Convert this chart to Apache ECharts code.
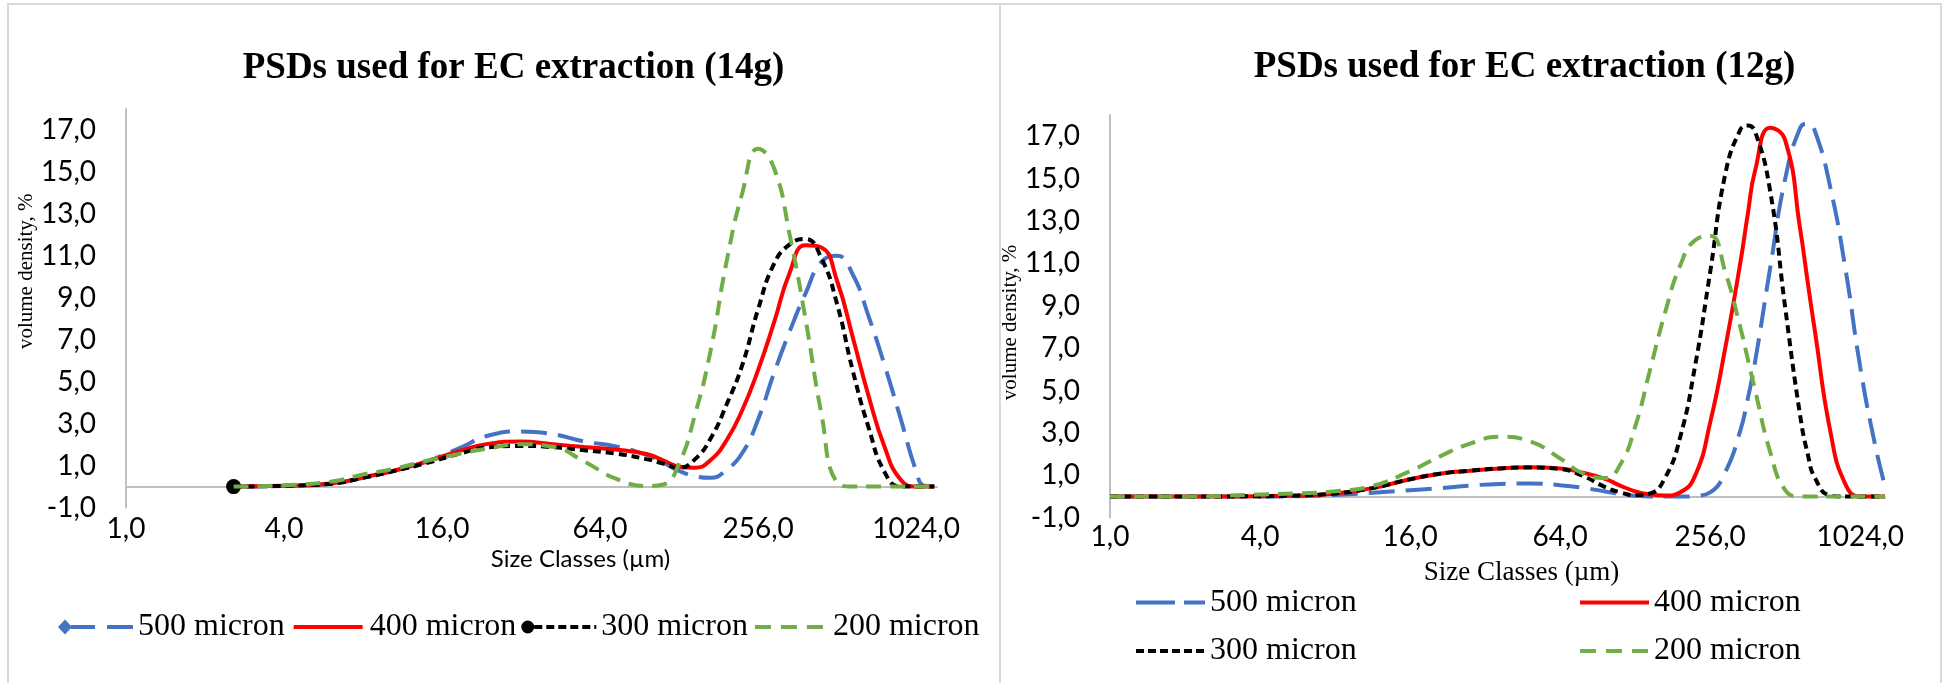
<!DOCTYPE html>
<html>
<head>
<meta charset="utf-8">
<script src="https://cdn.jsdelivr.net/npm/echarts@6/dist/echarts.min.js"></script>
<style>
html,body{margin:0;padding:0;background:#ffffff;}
#chart{width:1946px;height:683px;}
</style>
</head>
<body>
<div id="chart"></div>
<script>
// ---------------- data ----------------
const chartTitles = ['PSDs used for EC extraction (14g)', 'PSDs used for EC extraction (12g)'];
const seriesNames = ['500 micron', '400 micron', '300 micron', '200 micron'];
const xAxisTitle = 'Size Classes (\u00b5m)';
const yAxisTitle = 'volume density, %';
const xTickValues = [1, 4, 16, 64, 256, 1024];
const yTickValues = [-1, 1, 3, 5, 7, 9, 11, 13, 15, 17];

// 14g panel: size classes (µm) and volume density (%)
const sizes14g = [2.57, 4.0, 6.06, 8.0, 10.56, 13.93, 18.38, 24.25, 32.0, 42.22, 55.72, 73.52, 97.01, 111.4, 128.0, 147.0, 168.9, 194.0, 222.9, 256.0, 294.1, 337.8, 388.0, 445.7, 512.0, 588.1, 675.6, 776.0, 891.4, 1024.0, 1097.1, 1201.0];
const v500_14g = [0, 0.03, 0.14, 0.42, 0.76, 1.2, 1.8, 2.45, 2.63, 2.5, 2.15, 1.92, 1.5, 1.15, 0.75, 0.5, 0.42, 0.8, 1.6, 3.2, 5.4, 7.4, 9.2, 10.7, 11.0, 10.1, 8.1, 5.8, 3.3, 0.75, 0.05, 0];
const v400_14g = [0, 0.04, 0.15, 0.44, 0.77, 1.18, 1.68, 2.05, 2.15, 2.02, 1.89, 1.77, 1.54, 1.25, 0.95, 0.9, 1.27, 2.2, 3.65, 5.55, 7.8, 10.2, 11.5, 11.4, 9.8, 7.1, 4.3, 1.9, 0.35, 0, 0, 0];
const v300_14g = [0, 0.04, 0.14, 0.42, 0.75, 1.12, 1.55, 1.88, 1.94, 1.88, 1.73, 1.58, 1.3, 1.1, 0.9, 1.3, 2.3, 3.9, 5.8, 8.45, 10.6, 11.55, 11.8, 10.9, 8.7, 5.5, 2.8, 0.7, 0, 0, 0, 0];
const v200_14g = [0, 0.06, 0.24, 0.58, 0.86, 1.22, 1.55, 1.83, 2.02, 1.9, 1.2, 0.38, 0.03, 0.1, 1.1, 3.4, 6.5, 10.7, 14.0, 16.1, 15.2, 12.0, 8.0, 3.5, 0.2, 0, 0, 0, 0, 0, 0, 0];

// 12g panel
const sizes12g = [1, 2, 4, 5.66, 8, 11.31, 16, 21.11, 27.86, 36.76, 48.5, 64, 78.79, 97.01, 111.4, 128, 147.0, 168.9, 194.0, 222.9, 256, 294.1, 337.8, 362.0, 388.0, 445.7, 512, 588.1, 630.4, 675.6, 776.0, 891.4, 1024, 1176.1, 1287];
const v500_12g = [0, 0, 0, 0.02, 0.08, 0.18, 0.3, 0.4, 0.52, 0.6, 0.62, 0.54, 0.42, 0.24, 0.12, 0.04, 0, 0, 0, 0.03, 0.2, 1.15, 3.1, 4.6, 6.4, 10.8, 15.0, 17.4, 17.6, 17.2, 14.6, 10.8, 6.1, 2.4, 0.5];
const v400_12g = [0, 0, 0.02, 0.05, 0.15, 0.4, 0.82, 1.08, 1.22, 1.33, 1.38, 1.33, 1.13, 0.84, 0.52, 0.25, 0.1, 0.05, 0.2, 1.0, 3.5, 7.0, 11.0, 13.3, 15.4, 17.4, 16.8, 12.6, 10.1, 7.7, 3.1, 0.6, 0, 0, 0];
const v300_12g = [0, 0, 0.02, 0.05, 0.15, 0.4, 0.82, 1.08, 1.22, 1.33, 1.37, 1.3, 0.98, 0.45, 0.2, 0.07, 0.15, 0.9, 2.8, 6.2, 10.6, 15.2, 17.3, 17.5, 17.2, 14.4, 8.9, 3.8, 2.0, 0.85, 0.05, 0, 0, 0, 0];
const v200_12g = [0, 0, 0.1, 0.15, 0.25, 0.5, 1.2, 1.9, 2.5, 2.82, 2.6, 1.8, 1.1, 0.88, 1.5, 3.3, 6.0, 8.7, 10.9, 12.1, 12.3, 10.6, 8.0, 6.5, 5.0, 2.1, 0.3, 0, 0, 0, 0, 0, 0, 0, 0];

// ---------------- styles ----------------
const SERIF = '"Liberation Serif", "Times New Roman", serif';
const SANS = 'Lato, Carlito, Calibri, "Open Sans", sans-serif';
const colors = ['#4472C4', '#FF0000', '#000000', '#70AD47'];
const dashes = [[26, 11], 'solid', [8, 5], [15, 9]];
const LW = 4;
const axisGray = '#BFBFBF';

function fmtNum(v) {
  return (Math.round(v * 10) / 10).toFixed(1).replace('.', ',');
}
function xLabel(v) {
  const r = Math.round(v);
  return xTickValues.indexOf(r) >= 0 && Math.abs(v - r) < 0.01 ? fmtNum(r) : '';
}
function yLabel(v) {
  return yTickValues.indexOf(Math.round(v * 10) / 10) >= 0 ? fmtNum(v) : '';
}

function makeSeries(idx, sizes, vals, panel, firstMarker) {
  const data = sizes.map((s, i) => [s, vals[i]]);
  if (firstMarker) {
    data[0] = { value: data[0], symbol: firstMarker.symbol, symbolSize: firstMarker.size };
  }
  return {
    name: seriesNames[idx],
    type: 'line',
    xAxisIndex: panel,
    yAxisIndex: panel,
    data: data,
    smooth: 0.5,
    symbol: 'none',
    showSymbol: true,
    lineStyle: { color: colors[idx], width: LW, type: dashes[idx], cap: 'butt' },
    itemStyle: { color: colors[idx], borderWidth: 0 },
    emphasis: { disabled: true },
    z: 2 + idx
  };
}

// ---- legend icons (drawn as filled paths inside a W x 15 box) ----
function bboxPts(W) {
  return ' M0,0L0.01,0L0,0.01Z M' + W + ',15L' + (W - 0.01) + ',15L' + W + ',14.99Z';
}
function segs(list) {
  return list.map(s => 'M' + s[0] + ',5.6L' + s[1] + ',5.6L' + s[1] + ',9.4L' + s[0] + ',9.4Z').join(' ');
}
function pattern(start, end, dash, gap) {
  const out = [];
  for (let x = start; x < end; x += dash + gap) out.push([x, Math.min(x + dash, end)]);
  return out;
}
function icon(W, parts) { return 'path://' + parts + bboxPts(W); }

const diamond = 'M0,7.5L7,0L14,7.5L7,15Z ';
const circle = 'M0,7.5A6.5,6.5,0,1,1,13,7.5A6.5,6.5,0,1,1,0,7.5Z ';
const legendIconsLeft = [
  icon(75, diamond + segs([[13, 37], [49, 75]])),
  icon(75, segs([[4, 73]])),
  icon(75, circle + segs(pattern(13, 75, 8, 4))),
  icon(75, segs(pattern(2, 72, 16, 10)))
];
const legendIconsRight = [
  icon(69, segs([[0, 39], [48, 69]])),
  icon(69, segs([[0, 69]])),
  icon(69, segs(pattern(0, 69, 8, 4))),
  icon(69, segs(pattern(0, 69, 16, 10)))
];

function xAxisDef(panel, max, labelMargin, nameFont, nameSize, nameGap, namePadLeft) {
  return {
    type: 'log',
    logBase: 4,
    gridIndex: panel,
    min: 1,
    max: max,
    axisLine: { show: true, onZero: true, lineStyle: { color: axisGray, width: 2 } },
    axisTick: { show: false },
    splitLine: { show: false },
    minorTick: { show: false },
    axisLabel: {
      formatter: xLabel,
      margin: labelMargin,
      color: '#000',
      fontFamily: SANS,
      fontSize: 28,
      showMaxLabel: false,
      showMinLabel: true
    },
    name: xAxisTitle,
    nameLocation: 'middle',
    nameGap: nameGap,
    nameTextStyle: { fontFamily: nameFont, fontSize: nameSize, color: '#000', padding: [0, 0, 0, namePadLeft] }
  };
}
function yAxisDef(panel, nameGap, namePad) {
  return {
    type: 'value',
    gridIndex: panel,
    min: -1,
    max: 18,
    interval: 2,
    axisLine: { show: true, onZero: false, lineStyle: { color: axisGray, width: 2 } },
    axisTick: { show: false },
    splitLine: { show: false },
    axisLabel: {
      formatter: yLabel,
      margin: 30,
      color: '#000',
      fontFamily: SANS,
      fontSize: 28,
      showMaxLabel: false
    },
    name: yAxisTitle,
    nameLocation: 'middle',
    nameRotate: 90,
    nameGap: nameGap,
    nameTextStyle: { fontFamily: SERIF, fontSize: 21, color: '#000', padding: namePad }
  };
}

const legendText = { fontFamily: SERIF, fontSize: 32, color: '#000' };
function legendItems(idxs, icons) {
  return idxs.map(i => ({ name: seriesNames[i], icon: icons[i], itemStyle: { color: colors[i], borderWidth: 0 } }));
}

const option = {
  animation: false,
  backgroundColor: '#ffffff',
  title: [
    { text: chartTitles[0], left: 508.5, top: 45, textAlign: 'center',
      textStyle: { fontFamily: SERIF, fontSize: 37, fontWeight: 'bold', color: '#000' } },
    { text: chartTitles[1], left: 1519.5, top: 43.5, textAlign: 'center',
      textStyle: { fontFamily: SERIF, fontSize: 37, fontWeight: 'bold', color: '#000' } }
  ],
  grid: [
    { left: 126, top: 109, width: 811, height: 398.6, containLabel: false, outerBoundsMode: 'none' },
    { left: 1110, top: 115, width: 775, height: 402.8, containLabel: false, outerBoundsMode: 'none' }
  ],
  xAxis: [
    xAxisDef(0, 1230, 7, SANS, 24, 40, 98),
    xAxisDef(1, 1287, 5, SERIF, 27, 42, 48)
  ],
  yAxis: [
    yAxisDef(0, 82, [0, 0, 0, 74]),
    yAxisDef(1, 75, [0, 12, 0, 0])
  ],
  legend: [
    {
      left: 58, top: 611, orient: 'horizontal', padding: 0,
      itemWidth: 75, itemHeight: 15, itemGap: 5, selectedMode: false,
      symbolKeepAspect: false,
      textStyle: legendText,
      data: legendItems([0, 1, 2, 3], legendIconsLeft)
    },
    {
      left: 1136, top: 586.5, orient: 'vertical', padding: 0,
      itemWidth: 69, itemHeight: 15, itemGap: 16.5, selectedMode: false,
      symbolKeepAspect: false,
      textStyle: legendText,
      data: legendItems([0, 2], legendIconsRight)
    },
    {
      left: 1580, top: 586.5, orient: 'vertical', padding: 0,
      itemWidth: 69, itemHeight: 15, itemGap: 16.5, selectedMode: false,
      symbolKeepAspect: false,
      textStyle: legendText,
      data: legendItems([1, 3], legendIconsRight)
    }
  ],
  graphic: [
    { type: 'rect', shape: { x: 8, y: 4, width: 1933, height: 700 },
      style: { fill: 'none', stroke: '#D9D9D9', lineWidth: 2 }, silent: true, z: -10 },
    { type: 'line', shape: { x1: 1000, y1: 4, x2: 1000, y2: 690 },
      style: { stroke: '#D9D9D9', lineWidth: 2 }, silent: true, z: -10 }
  ],
  series: [
    makeSeries(0, sizes14g, v500_14g, 0, { symbol: 'diamond', size: [13, 15] }),
    makeSeries(1, sizes14g, v400_14g, 0, null),
    makeSeries(2, sizes14g, v300_14g, 0, { symbol: 'circle', size: 15 }),
    makeSeries(3, sizes14g, v200_14g, 0, null),
    makeSeries(0, sizes12g, v500_12g, 1, null),
    makeSeries(1, sizes12g, v400_12g, 1, null),
    makeSeries(2, sizes12g, v300_12g, 1, null),
    makeSeries(3, sizes12g, v200_12g, 1, null)
  ]
};

const chart = echarts.init(document.getElementById('chart'), null, { renderer: 'canvas' });
chart.setOption(option);
</script>
</body>
</html>
